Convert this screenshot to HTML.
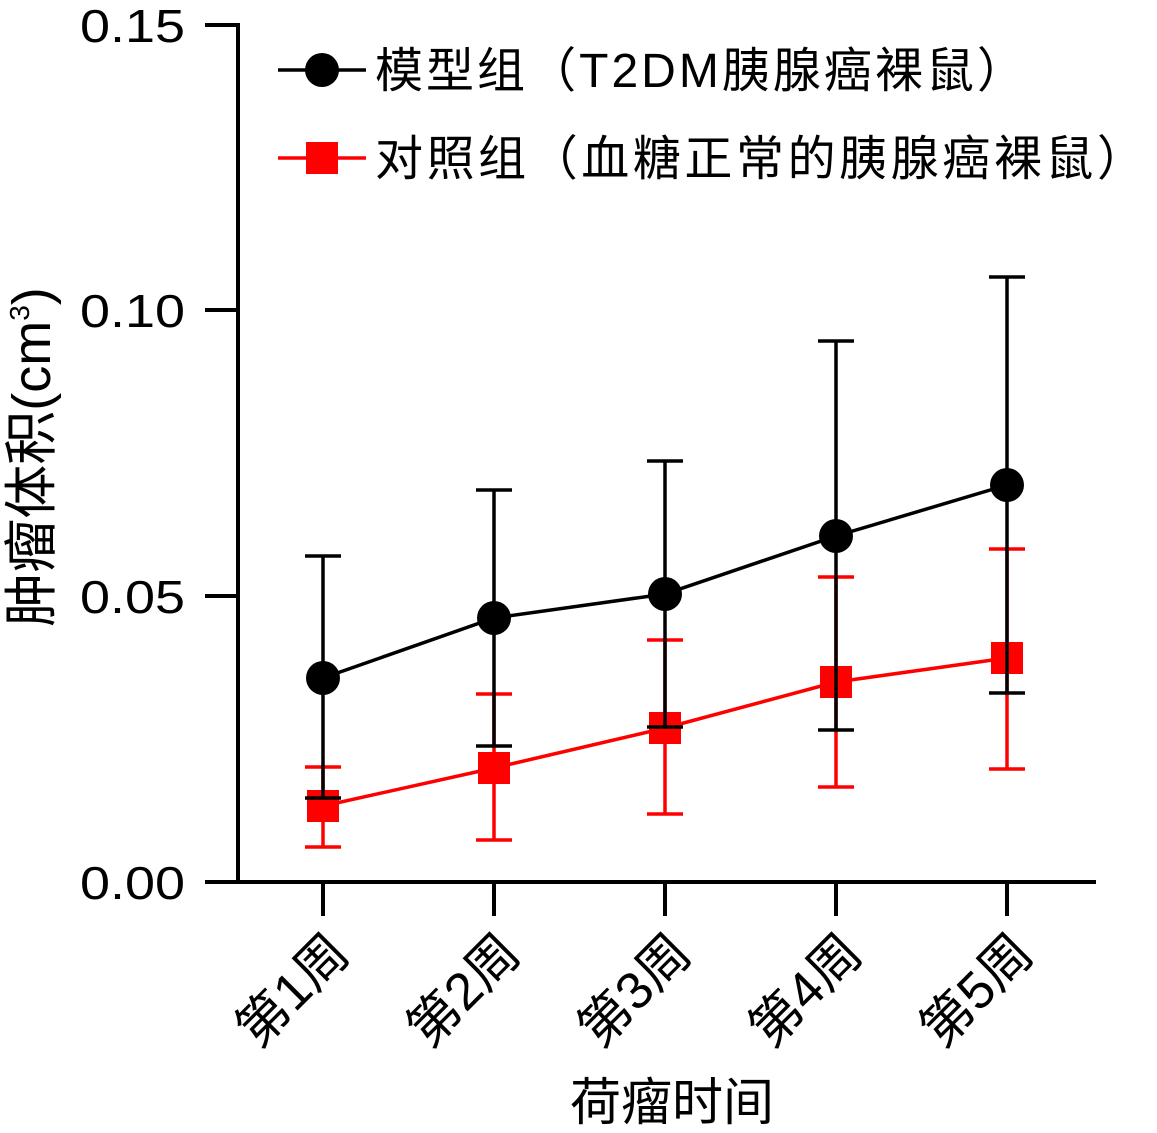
<!DOCTYPE html>
<html><head><meta charset="utf-8"><style>
html,body{margin:0;padding:0;background:#fff;}
svg{display:block;font-family:"Liberation Sans","Noto Sans CJK SC",sans-serif;}
</style></head><body>
<svg width="1157" height="1133" viewBox="0 0 1157 1133">
<g stroke="#000" stroke-width="4" fill="none">
<line x1="238" y1="23" x2="238" y2="884"/>
<line x1="236" y1="882" x2="1096" y2="882"/>
<line x1="205" y1="25" x2="238" y2="25"/>
<line x1="205" y1="310" x2="238" y2="310"/>
<line x1="205" y1="596" x2="238" y2="596"/>
<line x1="205" y1="882" x2="238" y2="882"/>
<line x1="323" y1="882" x2="323" y2="916"/>
<line x1="494" y1="882" x2="494" y2="916"/>
<line x1="665" y1="882" x2="665" y2="916"/>
<line x1="836" y1="882" x2="836" y2="916"/>
<line x1="1007" y1="882" x2="1007" y2="916"/>
</g>
<g font-size="46" fill="#000">
<text x="80" y="42" textLength="105" lengthAdjust="spacingAndGlyphs">0.15</text>
<text x="80" y="327" textLength="105" lengthAdjust="spacingAndGlyphs">0.10</text>
<text x="80" y="613" textLength="105" lengthAdjust="spacingAndGlyphs">0.05</text>
<text x="80" y="899" textLength="105" lengthAdjust="spacingAndGlyphs">0.00</text>
</g>
<g font-size="52" text-anchor="end" fill="#000">
<text transform="translate(352,956) rotate(-45)">第1周</text>
<text transform="translate(523,956) rotate(-45)">第2周</text>
<text transform="translate(694,956) rotate(-45)">第3周</text>
<text transform="translate(865,956) rotate(-45)">第4周</text>
<text transform="translate(1036,956) rotate(-45)">第5周</text>
</g>
<text x="672" y="1120" font-size="51" text-anchor="middle">荷瘤时间</text>
<text transform="translate(50,457) rotate(-90)" font-size="54" text-anchor="middle">肿瘤体积(cm<tspan font-size="28" dy="-21">3</tspan><tspan dy="21">)</tspan></text>
<!-- red -->
<g stroke="#f00" stroke-width="3.5" fill="none">
<path d="M323 767V847M305 767H341M305 847H341"/>
<path d="M494 694V840M476 694H512M476 840H512"/>
<path d="M665 640V814M647 640H683M647 814H683"/>
<path d="M836 577V787M818 577H854M818 787H854"/>
<path d="M1007 549V769M989 549H1025M989 769H1025"/>
<polyline points="323,806 494,768 665,728 836,682 1007,658"/>
</g>
<g fill="#f00">
<rect x="307" y="790" width="32" height="32"/>
<rect x="478" y="752" width="32" height="32"/>
<rect x="649" y="712" width="32" height="32"/>
<rect x="820" y="666" width="32" height="32"/>
<rect x="991" y="642" width="32" height="32"/>
</g>
<!-- black -->
<g stroke="#000" stroke-width="3.5" fill="none">
<path d="M323 556V798M305 556H341M305 798H341"/>
<path d="M494 490V746M476 490H512M476 746H512"/>
<path d="M665 461V727M647 461H683M647 727H683"/>
<path d="M836 341V730M818 341H854M818 730H854"/>
<path d="M1007 277V693M989 277H1025M989 693H1025"/>
<polyline points="323,678 494,618 665,594 836,536 1007,485"/>
</g>
<g fill="#000">
<circle cx="323" cy="678" r="17"/>
<circle cx="494" cy="618" r="17"/>
<circle cx="665" cy="594" r="17"/>
<circle cx="836" cy="536" r="17"/>
<circle cx="1007" cy="485" r="17"/>
</g>
<!-- legend -->
<line x1="278" y1="70" x2="366" y2="70" stroke="#000" stroke-width="3.5"/>
<circle cx="322" cy="70" r="17" fill="#000"/>
<text x="375" y="87" font-size="48" textLength="650" lengthAdjust="spacing">模型组（T2DM胰腺癌裸鼠）</text>
<line x1="278" y1="158" x2="366" y2="158" stroke="#f00" stroke-width="3.5"/>
<rect x="306" y="142" width="32" height="32" fill="#f00"/>
<text x="375" y="175" font-size="48" textLength="770" lengthAdjust="spacing">对照组（血糖正常的胰腺癌裸鼠）</text>
</svg>
</body></html>
